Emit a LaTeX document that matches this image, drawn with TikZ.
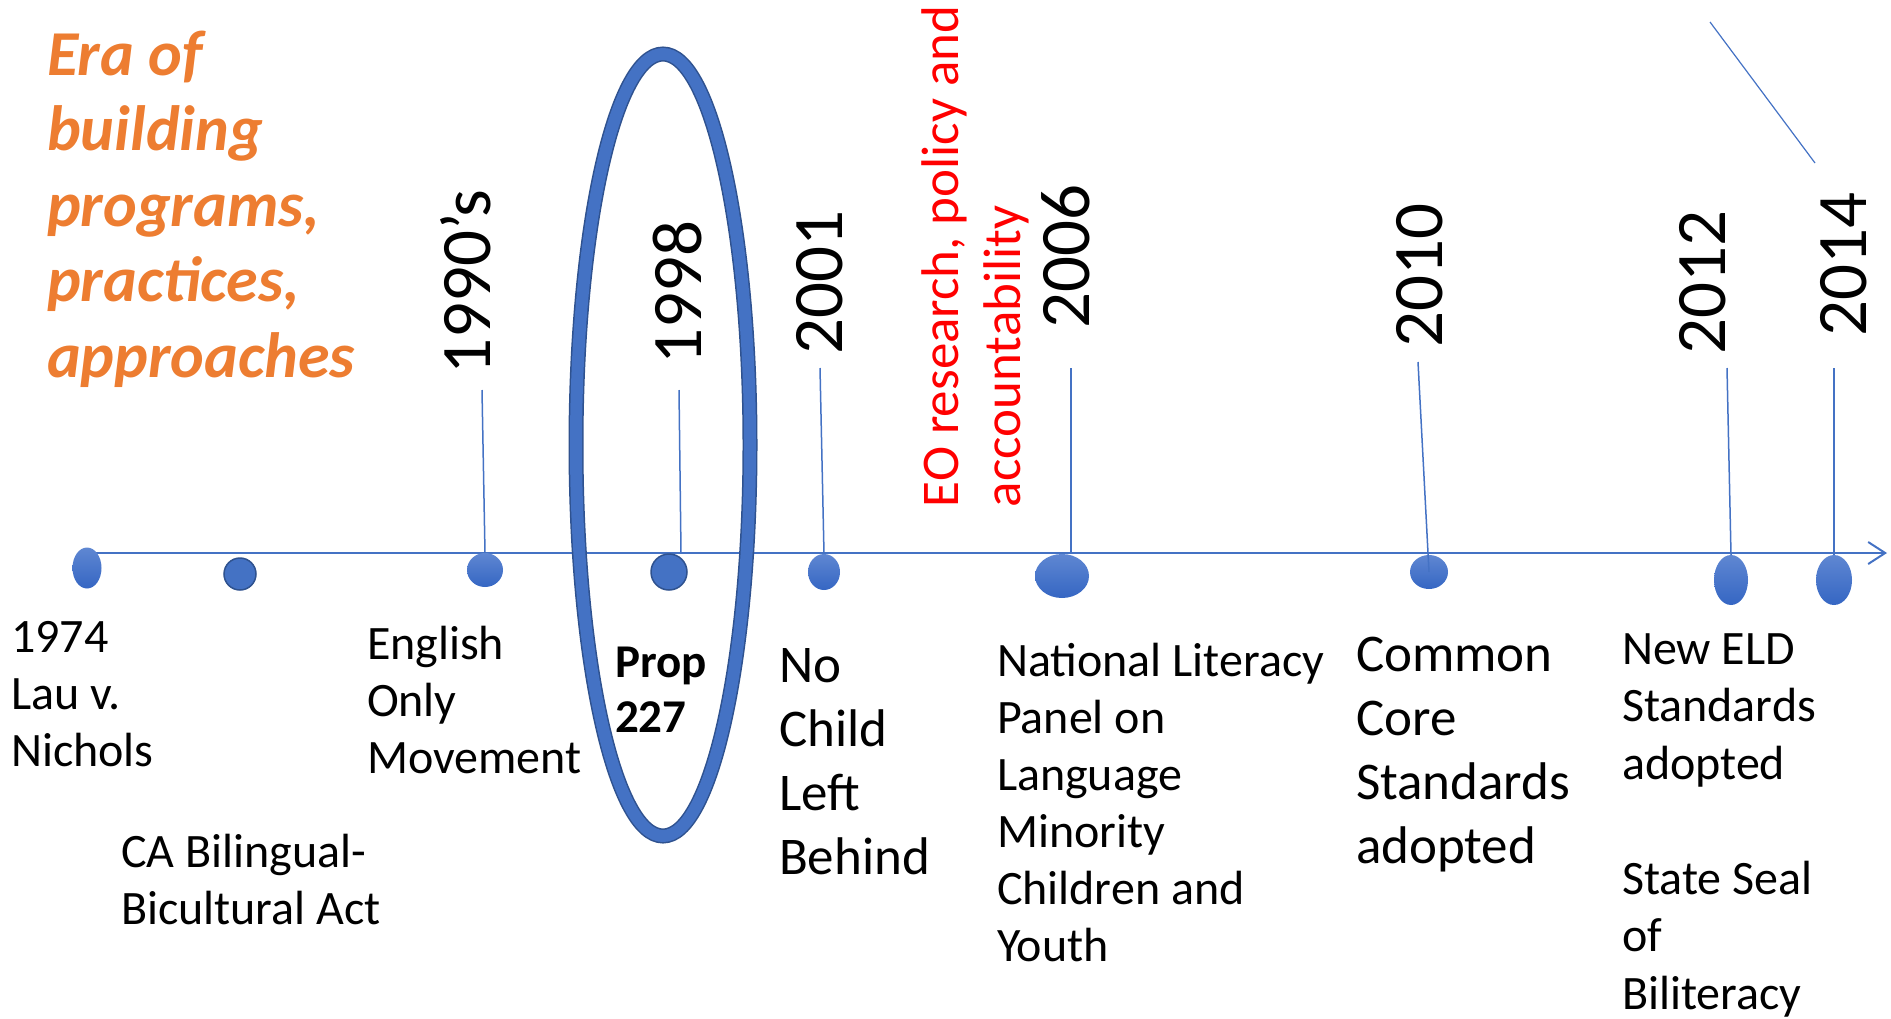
\documentclass[tikz,border=0pt]{standalone}
\usepackage{fontspec}
\setmainfont{Carlito}
\usetikzlibrary{shapes.geometric,arrows.meta}
\definecolor{tlblue}{HTML}{4472C4}
\definecolor{tldark}{HTML}{2F528F}
\definecolor{tltop}{HTML}{5F87D2}
\definecolor{tlbot}{HTML}{3566C3}
\definecolor{eraorange}{HTML}{ED7D31}
\begin{document}
\begin{tikzpicture}[x=1bp, y=-1bp]

\tikzstyle{every node}=[inner sep=0pt, outer sep=0pt]
\tikzstyle{evt} = [ellipse, top color=tltop, bottom color=tlbot, draw=none]
\tikzstyle{evtline} = [ellipse, fill=tlblue, draw=tldark, line width=1.5bp]
\tikzstyle{yr} = [rotate=90, font=\fontsize{71bp}{85bp}\selectfont]
\tikzstyle{lbl} = [anchor=base west, align=left, font=\fontsize{48bp}{57bp}\selectfont]
\tikzstyle{lblbig} = [lbl, font=\fontsize{53bp}{64bp}\selectfont]
\tikzstyle{lead} = [draw=tlblue, line width=1.5bp]

\useasboundingbox (0,0) rectangle (1891,1018);

% Axis
\coordinate (axstart) at (87,553);
\coordinate (axend) at (1887,553);
\draw[tlblue, line width=2bp, -{Straight Barb[length=17bp, width=22bp, line width=2bp]}] (axstart) -- (axend);

% Events on the axis
\node[evt, minimum width=29bp, minimum height=41bp] (d74) at (87,568) {};
\node[evtline, minimum width=32bp, minimum height=32bp] (dca) at (240,574) {};
\node[evt, minimum width=36bp, minimum height=34bp] (d90) at (485,570) {};
\node[evtline, minimum width=36bp, minimum height=36bp] (d98) at (669,572) {};
\node[evt, minimum width=32bp, minimum height=36bp] (d01) at (824,572) {};
\node[evt, minimum width=54bp, minimum height=44bp] (d06) at (1062,576) {};
\node[evt, minimum width=38bp, minimum height=34bp] (d10) at (1429,572) {};
\node[evt, minimum width=34bp, minimum height=50bp] (d12) at (1731,580) {};
\node[evt, minimum width=36bp, minimum height=50bp] (d14) at (1834,580) {};

% Leaders
\coordinate (t90) at (482,390);
\coordinate (t98) at (679,390);
\coordinate (b98) at (681,553);
\coordinate (t01) at (820,368);
\coordinate (t06) at (1071,368);
\coordinate (b06) at (1071,553);
\coordinate (t10) at (1418,362);
\coordinate (t12) at (1727,368);
\coordinate (t14) at (1834,368);
\draw[lead] (t90) -- (d90.north);
\draw[lead] (t98) -- (b98);
\draw[lead] (t01) -- (d01.north);
\draw[lead] (t06) -- (b06);
\draw[lead] (t10) -- (d10.center);
\draw[lead] (t12) -- (d12.north);
\draw[lead] (t14) -- (d14.north);

\coordinate (dg1) at (1710,22);
\coordinate (dg2) at (1815,163);
\draw[lead, line width=1.2bp] (dg1) -- (dg2);

% Highlight round 1998
\node[ellipse, draw=tldark, line width=1.5bp, double=tlblue, double distance=12bp,
      minimum width=174bp, minimum height=782bp] (hl) at (663,445) {};

% Years
\node[yr] (y90) at (466,282) {1990’s};
\node[yr] (y98) at (678,293) {1998};
\node[yr] (y01) at (820,283) {2001};
\node[yr] (y06) at (1066,257) {2006};
\node[yr] (y10) at (1420,276) {2010};
\node[yr] (y12) at (1703,283) {2012};
\node[yr] (y14) at (1844,265) {2014};

% Eras
\node[anchor=base west, align=left, text=eraorange,
      font=\fontsize{64bp}{75.5bp}\selectfont\bfseries\itshape] (era) at (47,377)
      {Era of\\building\\programs,\\practices,\\approaches};
\node[rotate=90, anchor=base west, text=red, font=\fontsize{53bp}{63bp}\selectfont] (eo1) at (958,507) {EO research, policy and};
\node[rotate=90, anchor=base west, text=red, font=\fontsize{53bp}{63bp}\selectfont] (eo2) at (1020,507) {accountability};

% Labels (placed by the baseline of their last line)
\node[lbl] (l74) at (11,766) {1974\\Lau v.\\Nichols};
\node[lbl] (lca) at (121,924) {CA Bilingual-\\Bicultural Act};
\node[lbl] (l90) at (367,773) {English\\Only\\Movement};
\node[lbl, font=\fontsize{47bp}{55bp}\selectfont\bfseries] (l98) at (615,732) {Prop\\227};
\node[lblbig] (l01) at (779,874) {No\\Child\\Left\\Behind};
\node[lbl] (l06) at (997,961) {National Literacy\\Panel on\\Language\\Minority\\Children and\\Youth};
\node[lblbig] (l10) at (1356,863) {Common\\Core\\Standards\\adopted};
\node[lbl, font=\fontsize{48bp}{57.5bp}\selectfont] (l12) at (1622,1009) {New ELD\\Standards\\adopted\\[57.5bp]State Seal\\of\\Biliteracy};

\end{tikzpicture}
\end{document}
